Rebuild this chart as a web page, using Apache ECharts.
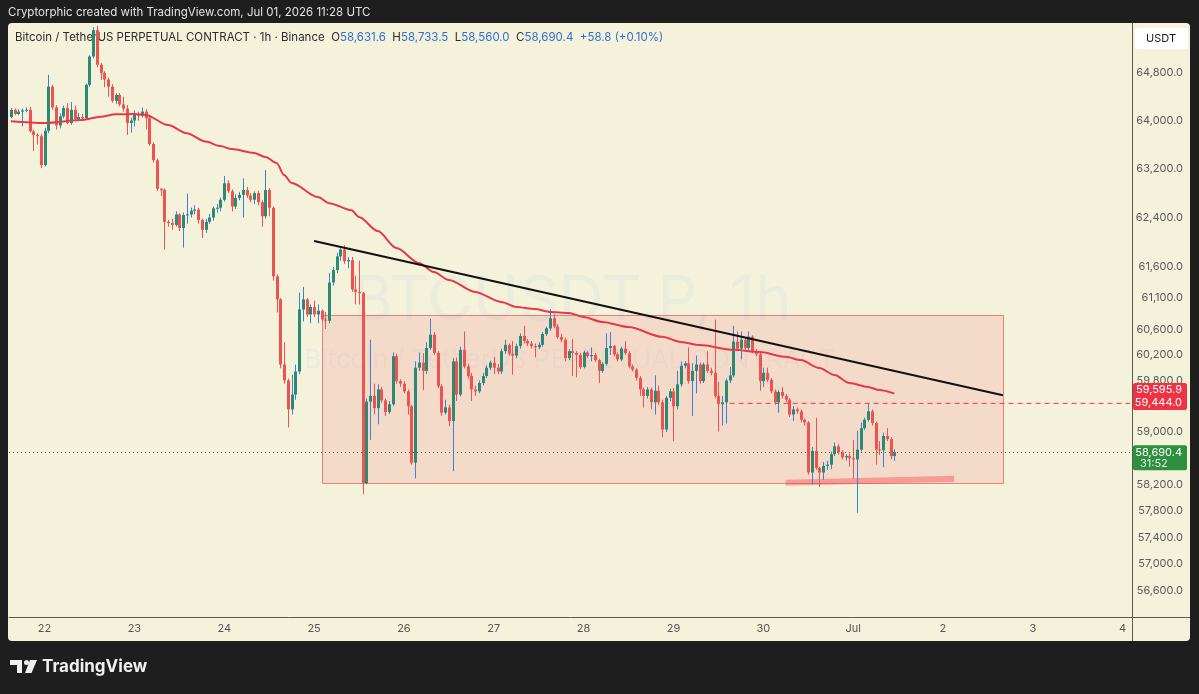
<!DOCTYPE html>
<html><head><meta charset="utf-8">
<script src="https://cdn.jsdelivr.net/npm/echarts@6/dist/echarts.min.js"></script>
<style>html,body{margin:0;padding:0;background:#1e1e1e;}#c{width:1199px;height:694px;}</style>
</head><body><div id="c"></div>
<script>
// ---------- data ----------
const startTimeUTC = Date.UTC(2026, 5, 21, 15); // first hourly bar
const hourSlots = 300;                           // slots shown on the time axis
const dayTickLabels = ['22','23','24','25','26','27','28','29','30','Jul','2','3','4'];
const priceTicks = [64800,64000,63200,62400,61600,61100,60600,60200,59800,59000,58200,57800,57400,57000,56600];
const priceMin = 56218, priceMax = 65652;

// [open, close, low, high] per hour
const candles = [
[64060,64180,64040,64210],[64180,64110,64090,64200],[64110,64150,64090,64190],[64150,64170,63900,64200],[64170,64180,64140,64220],
[64180,63820,63800,64230],[63820,63760,63490,63850],[63760,63740,63600,63790],[63740,63260,63210,63780],[63260,63830,63240,63880],
[63830,64570,63790,64770],[64570,64220,64180,64600],[64220,63920,63850,64260],[63920,64070,63870,64120],[64070,64210,64040,64250],
[64210,63960,63940,64290],[63960,64180,63930,64310],[64180,64020,63990,64250],[64020,64060,63990,64130],[64060,64040,64000,64110],
[64040,64600,64020,64620],[64600,65080,64570,65100],[65080,65530,65050,65580],[65530,64940,64900,65600],[64940,64800,64680,64970],
[64800,64690,64560,64830],[64690,64570,64400,64720],[64570,64330,64300,64610],[64330,64430,64280,64460],[64430,64270,64240,64460],
[64270,64200,64150,64400],[64200,63960,63760,64260],[63960,64000,63800,64050],[64000,64100,63900,64170],[64100,64080,64000,64150],
[64080,64150,64050,64220],[64150,64040,63850,64190],[64040,63610,63580,64070],[63610,63340,63300,63640],[63340,62870,62830,63370],
[62870,62850,62750,62880],[62850,62330,61880,62880],[62330,62310,62250,62360],[62310,62280,62200,62380],[62280,62450,62250,62500],
[62450,62230,62180,62470],[62230,62440,61910,62480],[62440,62450,62300,62790],[62450,62510,62400,62560],[62510,62530,62450,62600],
[62530,62360,62300,62560],[62360,62200,62070,62380],[62200,62330,62150,62380],[62330,62400,62300,62460],[62400,62550,62350,62580],
[62550,62560,62480,62620],[62560,62690,62500,62730],[62690,62960,62660,63080],[62960,62830,62800,63010],[62830,62580,62500,62860],
[62580,62720,62540,62780],[62720,62770,62680,62820],[62770,62850,62400,63040],[62850,62760,62720,62900],[62760,62690,62650,62800],
[62690,62800,62620,62830],[62800,62650,62600,62840],[62650,62420,62250,62680],[62420,62850,62380,63180],[62850,62560,62420,62880],
[62560,61450,61380,62580],[61450,61080,60870,61480],[61080,60050,59990,61100],[60050,59800,59750,60400],[59800,59350,59070,59830],
[59350,59580,59270,59890],[59580,59940,59500,60050],[59940,60920,59900,61190],[60920,61080,60730,61280],[61080,60840,60800,61100],
[60840,60960,60700,61000],[60960,60840,60800,61060],[60840,60900,60700,61000],[60900,60760,60720,60920],[60760,60740,60610,60880],
[60740,61350,60700,61500],[61350,61550,61300,61600],[61550,61770,61500,61830],[61770,61880,61700,61920],[61880,61690,61650,61950],
[61690,61710,61580,61760],[61710,61240,61200,61760],[61240,61200,61000,61460],[61200,61180,61000,61700],[61180,58220,58050,61200],
[58220,59470,58200,59520],[59470,59560,58880,60440],[59560,59370,59270,59750],[59370,59660,59120,59740],[59660,59490,59450,59700],
[59490,59310,59250,59520],[59310,59430,59280,59480],[59430,60180,59400,60240],[60180,59790,59750,60220],[59790,59750,59700,59820],
[59750,59630,59600,59790],[59630,59400,59270,59660],[59400,58530,58500,59420],[58530,60000,58290,60100],[60000,60080,59950,60240],
[60080,59950,59650,60230],[59950,60310,59900,60400],[60310,60520,60280,60770],[60520,60230,60200,60560],[60230,59710,59680,60260],
[59710,59300,59250,59740],[59300,59380,59270,59500],[59380,59170,59090,59420],[59170,60100,58400,60150],[60100,59580,59480,60160],
[59580,60280,59550,60330],[60280,60020,59990,60570],[60020,59870,59820,60060],[59870,59660,59480,59920],[59660,59630,59560,59720],
[59630,59760,59600,59800],[59760,59870,59720,59920],[59870,60000,59840,60040],[60000,60080,59960,60110],[60080,60000,59900,60170],
[60000,59940,59900,60060],[59940,60260,59900,60300],[60260,60360,60220,60440],[60360,60220,60190,60380],[60220,60190,59890,60420],
[60190,60340,60150,60380],[60340,60500,60300,60540],[60500,60420,60380,60660],[60420,60380,60340,60450],[60380,60340,60300,60420],
[60340,60320,60160,60380],[60320,60360,60290,60400],[60360,60530,60330,60560],[60530,60620,60500,60650],[60620,60780,60580,60920],
[60780,60650,60620,60850],[60650,60480,60450,60690],[60480,60440,60400,60530],[60440,60150,60100,60470],[60150,60260,60120,60290],
[60260,60230,59870,60450],[60230,60200,59850,60260],[60200,60010,59980,60230],[60010,60240,59990,60270],[60240,60180,60150,60260],
[60180,60200,60100,60320],[60200,60120,60090,60230],[60120,59950,59760,60140],[59950,60060,59920,60090],[60060,60310,60030,60540],
[60310,60340,60200,60560],[60340,60210,60180,60360],[60210,60130,60100,60240],[60130,60300,60100,60330],[60300,60230,60200,60420],
[60230,60020,59990,60260],[60020,59970,59940,60050],[59970,59840,59800,59990],[59840,59660,59560,59870],[59660,59560,59380,59690],
[59560,59660,59520,59700],[59660,59460,59350,59690],[59460,59640,59270,59880],[59640,59460,59420,59720],[59460,59040,58920,59500],
[59040,59530,59000,59560],[59530,59630,59480,59670],[59630,59400,58860,59680],[59400,59740,59350,59950],[59740,60030,59700,60100],
[60030,60070,59990,60100],[60070,59790,59750,60320],[59790,59950,59250,60070],[59950,60050,59600,60190],[60050,59790,59750,60080],
[59790,60050,59760,60080],[60050,59950,59920,60260],[59950,59920,59880,60000],[59920,59560,59520,60760],[59560,59430,59010,59780],
[59430,59460,59100,59560],[59460,59800,59130,59830],[59800,59880,59760,60010],[59880,60410,59850,60660],[60410,60300,60270,60570],
[60300,60440,60130,60570],[60440,60310,60280,60480],[60310,60490,60250,60570],[60490,60260,60230,60510],[60260,60210,60180,60290],
[60210,59790,59640,60240],[59790,59920,59700,60000],[59920,59810,59780,60000],[59810,59630,59600,59840],[59630,59460,59420,59660],
[59460,59620,59300,59650],[59620,59560,59520,59700],[59560,59500,59460,59590],[59500,59270,59230,59530],[59270,59350,59170,59400],
[59350,59320,59280,59380],[59320,59190,59150,59350],[59190,59150,59100,59210],[59150,58380,58350,59170],[58380,58710,58200,58770],
[58710,58450,58420,59220],[58450,58380,58160,58470],[58380,58480,58270,58540],[58480,58500,58420,58560],[58500,58660,58430,58700],
[58660,58780,58630,58840],[58780,58690,58650,58810],[58690,58610,58580,58720],[58610,58630,58560,58660],[58630,58600,58470,58670],
[58600,58580,58290,58880],[58580,58730,57770,59020],[58730,59060,58700,59150],[59060,59190,59030,59220],[59190,59320,59160,59440],
[59320,59140,59100,59350],[59140,58730,58500,59160],[58730,58720,58650,58860],[58720,58940,58460,58990],[58940,58890,58860,59060],
[58890,58630,58580,58920],[58631.6,58690.4,58560.0,58733.5]
];

// moving average readings: hour slot and value
const maIndex = [0,9,19,24,28,33,36,42,47,52,56,59,65,68,71,73,75,82,85,91,93,98,103,109,113,117,124,131,135,140,144,149,153,158,165,174,179,184,193,200,207,211,216,220,224,229,232,236];
const maValue = [63990,63960,64010,64065,64105,64110,64095,63925,63790,63650,63575,63525,63460,63395,63295,63095,62965,62735,62635,62520,62410,62180,61905,61665,61520,61390,61200,61040,60960,60925,60880,60865,60800,60720,60640,60485,60405,60355,60280,60245,60170,60120,59995,59885,59760,59700,59650,59595.9];

const trendIndex = [81, 265];
const trendValue = [62020, 59570];
const boxIndex = [83, 265];
const boxValue = [60839, 58227];
const supportIndex = [207, 252];
const supportValue = [58225, 58285];
const alertIndex = [192, 299];
const alertPrice = 59444.0;
const lastChange = 58.8, lastChangePct = 0.10;
const countdown = '31:52';

// ---------- build ----------
const L = Math.log;
const categories = [];
for (let k = 0; k < hourSlots; k++) categories.push(new Date(startTimeUTC + k * 3600000).toISOString().slice(0, 13));
const isMidnight = k => categories[k].slice(11, 13) === '00';
const firstMidnight = categories.findIndex((c, k) => isMidnight(k));

const UP_BODY = '#2a8a73', UP_WICK = '#3f7fd6', DOWN = '#ef5350';
const FONT = 'Inter, "Noto Sans", sans-serif';
const fmt = v => v.toLocaleString('en-US', {minimumFractionDigits: 1, maximumFractionDigits: 1});

const candleData = candles.map((c, i) => [i, L(c[0]), L(c[1]), L(c[2]), L(c[3])]);

function renderCandle(params, api) {
  const i = api.value(0), o = api.value(1), c = api.value(2), lo = api.value(3), hi = api.value(4);
  const pO = api.coord([i, o]), pC = api.coord([i, c]), pL = api.coord([i, lo]), pH = api.coord([i, hi]);
  const bw = api.size([1, 0])[0] * 0.8;
  const x = Math.round(pO[0]) + 0.5;
  const up = c >= o;
  const top = Math.min(pO[1], pC[1]);
  const h = Math.max(1, Math.abs(pO[1] - pC[1]));
  return {type: 'group', children: [
    {type: 'line', shape: {x1: x, y1: pH[1], x2: x, y2: pL[1]}, style: {stroke: up ? UP_WICK : DOWN, lineWidth: 1}},
    {type: 'rect', shape: {x: x - bw / 2, y: top, width: bw, height: h}, style: {fill: up ? UP_BODY : DOWN}}
  ]};
}
function renderBox(params, api) {
  const p1 = api.coord([api.value(0), api.value(1)]);
  const p2 = api.coord([api.value(2), api.value(3)]);
  return {type: 'rect', shape: {x: Math.round(p1[0]) + 0.5, y: Math.round(p1[1]) + 0.5, width: Math.round(p2[0] - p1[0]), height: Math.round(p2[1] - p1[1])},
    style: {fill: 'rgba(242,54,69,0.12)', stroke: 'rgba(242,54,69,0.6)', lineWidth: 1}};
}

const chart = echarts.init(document.getElementById('c'), null, {renderer: 'canvas'});
const option = {
  animation: false,
  backgroundColor: '#1e1e1e',
  grid: {left: 9, right: 67, top: 23, bottom: 77},
  xAxis: {
    type: 'category', data: categories, boundaryGap: true,
    axisLine: {show: true, lineStyle: {color: '#5b5b52', width: 1}},
    axisTick: {show: false},
    splitLine: {show: false},
    axisLabel: {
      interval: (k) => isMidnight(k),
      formatter: (v, k) => dayTickLabels[Math.round((k - firstMidnight) / 24)] || '',
      color: '#555', fontSize: 11, fontFamily: FONT, margin: 6
    }
  },
  yAxis: {
    type: 'value', position: 'right', min: L(priceMin), max: L(priceMax), scale: true,
    axisLine: {show: true, lineStyle: {color: '#5b5b52', width: 1}},
    axisTick: {show: false},
    splitLine: {show: false},
    axisLabel: {
      customValues: priceTicks.map(L),
      formatter: v => fmt(Math.round(Math.exp(v))),
      color: '#5a5a5a', fontSize: 11, fontFamily: FONT, align: 'right', margin: 51
    }
  },
  series: [
    {type: 'custom', name: 'range', renderItem: renderBox, data: [[boxIndex[0], L(boxValue[0]), boxIndex[1], L(boxValue[1])]],
      encode: {x: [0, 2], y: [1, 3]}, z: 1, silent: true},
    {type: 'line', name: 'support', data: supportIndex.map((k, j) => [k, L(supportValue[j])]), showSymbol: false, silent: true,
      lineStyle: {color: 'rgba(242,54,69,0.38)', width: 6, cap: 'butt'}, z: 2},
    {type: 'line', name: 'alert', data: alertIndex.map(k => [k, L(alertPrice)]), showSymbol: false, silent: true,
      lineStyle: {color: '#f23645', width: 1, type: [5, 4]}, z: 2,
      markLine: {silent: true, symbol: 'none', label: {show: false},
        lineStyle: {color: '#56685a', width: 1, type: [1, 3]},
        data: [{yAxis: L(candles[candles.length - 1][1])}]}},
    {type: 'custom', name: 'candles', renderItem: renderCandle, data: candleData, encode: {x: 0, y: [1, 2, 3, 4]}, z: 3},
    {type: 'line', name: 'ma', data: maIndex.map((k, j) => [k, L(maValue[j])]), showSymbol: false, smooth: 0.3, smoothMonotone: 'x', silent: true,
      lineStyle: {color: '#e63946', width: 2}, z: 4},
    {type: 'line', name: 'trend', data: trendIndex.map((k, j) => [k, L(trendValue[j])]), showSymbol: false, silent: true,
      lineStyle: {color: '#111111', width: 2}, z: 5}
  ]
};
chart.setOption(option);

const yOf = v => chart.convertToPixel({yAxisIndex: 0}, L(v));
const last = candles[candles.length - 1];
const maLast = maValue[maValue.length - 1];
const y1 = yOf(maLast), y2 = yOf(alertPrice), yP = yOf(last[1]);
const redMid = (y1 + y2) / 2 - 2;

const legendText = '{t|Bitcoin / TetherUS PERPETUAL CONTRACT · 1h · Binance}  ' +
  '{k|O}{v|' + fmt(last[0]) + '}  {k|H}{v|' + fmt(last[3]) + '}  {k|L}{v|' + fmt(last[2]) + '}  {k|C}{v|' + fmt(last[1]) + '}  ' +
  '{v|+' + lastChange.toFixed(1) + ' (+' + lastChangePct.toFixed(2) + '%)}';

chart.setOption({graphic: [
  {type: 'rect', z: -100, shape: {x: 8, y: 23, width: 1182, height: 618, r: 4}, style: {fill: '#f5f2dc'}},
  {type: 'line', z: 10, shape: {x1: 1132, y1: 617.5, x2: 1190, y2: 617.5}, style: {stroke: '#5b5b52', lineWidth: 1}},
  {type: 'line', z: 10, shape: {x1: 1132.5, y1: 617, x2: 1132.5, y2: 641}, style: {stroke: '#5b5b52', lineWidth: 1}},
  {type: 'text', z: -50, x: 572, y: 301, style: {text: 'BTCUSDT.P, 1h', fill: 'rgba(110,165,225,0.08)', font: '62px ' + FONT, textAlign: 'center', textVerticalAlign: 'middle'}},
  {type: 'text', z: -50, x: 570, y: 360, style: {text: 'Bitcoin / TetherUS PERPETUAL CONTRACT', fill: 'rgba(110,165,225,0.07)', font: '26px ' + FONT, textAlign: 'center', textVerticalAlign: 'middle'}},
  {type: 'text', z: 0, x: 8, y: 13, style: {text: 'Cryptorphic created with TradingView.com, Jul 01, 2026 11:28 UTC', fill: '#e2e2e2', font: '11.5px ' + FONT, textVerticalAlign: 'middle'}},
  {type: 'text', z: 0, x: 15, y: 38, style: {text: legendText, textVerticalAlign: 'middle', font: '11.5px ' + FONT,
    rich: {t: {fill: '#2c2c2c', font: '11.5px ' + FONT}, k: {fill: '#2c2c2c', font: '11.5px ' + FONT}, v: {fill: '#2f6fd1', font: '11.5px ' + FONT}}}},
  {type: 'rect', z: 20, shape: {x: 1135, y: 28, width: 53, height: 21, r: 3}, style: {fill: '#ffffff'}},
  {type: 'text', z: 21, x: 1161, y: 38.5, style: {text: 'USDT', fill: '#131722', font: '11px ' + FONT, textAlign: 'center', textVerticalAlign: 'middle'}},
  {type: 'rect', z: 20, shape: {x: 1133, y: redMid - 13.5, width: 54, height: 27, r: 2}, style: {fill: '#ef3344'}},
  {type: 'text', z: 21, x: 1182, y: redMid - 6.5, style: {text: fmt(maLast), fill: '#ffffff', font: '11px ' + FONT, textAlign: 'right', textVerticalAlign: 'middle'}},
  {type: 'text', z: 21, x: 1182, y: redMid + 6.5, style: {text: fmt(alertPrice), fill: '#ffffff', font: '11px ' + FONT, textAlign: 'right', textVerticalAlign: 'middle'}},
  {type: 'rect', z: 20, shape: {x: 1133, y: yP - 7, width: 54, height: 25, r: 2}, style: {fill: '#2e8f3f'}},
  {type: 'text', z: 21, x: 1182, y: yP, style: {text: fmt(last[1]), fill: '#ffffff', font: '11px ' + FONT, textAlign: 'right', textVerticalAlign: 'middle'}},
  {type: 'text', z: 21, x: 1140, y: yP + 11, style: {text: countdown, fill: '#e4f3e4', font: '11px ' + FONT, textAlign: 'left', textVerticalAlign: 'middle'}},
  {type: 'polygon', z: 0, shape: {points: [[10,660],[22,660],[22,673],[17,673],[17,665],[10,665]]}, style: {fill: '#f0f0f0'}},
  {type: 'circle', z: 0, shape: {cx: 26.5, cy: 662.5, r: 2.5}, style: {fill: '#f0f0f0'}},
  {type: 'polygon', z: 0, shape: {points: [[30,660],[37,660],[31.5,673],[25,673]]}, style: {fill: '#f0f0f0'}},
  {type: 'text', z: 0, x: 42, y: 667, style: {text: 'TradingView', fill: '#f0f0f0', font: 'bold 17px ' + FONT, textVerticalAlign: 'middle'}}
]});
</script>
</body></html>
